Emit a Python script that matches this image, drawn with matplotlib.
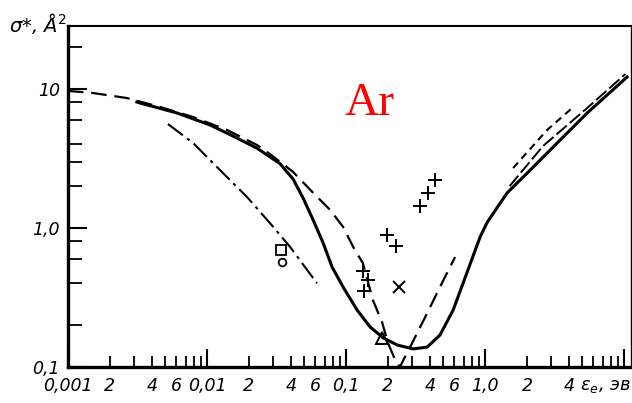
import matplotlib
matplotlib.use("Agg")
import matplotlib.pyplot as plt
from matplotlib.ticker import FixedLocator, FixedFormatter

# solid curve
solid_x = [0.00313, 0.00330, 0.00608, 0.01052, 0.01462, 0.0229, 0.0335, 0.0416,
           0.0491, 0.0580, 0.0684, 0.0793, 0.0951, 0.120, 0.149, 0.185, 0.233,
           0.303, 0.383, 0.474, 0.589, 0.743, 0.92, 1.03, 1.44, 2.11, 3.47,
           5.42, 10.5]
solid_y = [8.06, 7.93, 6.72, 5.51, 4.70, 3.75, 2.90, 2.25,
           1.64, 1.14, 0.780, 0.524, 0.377, 0.257, 0.194, 0.162, 0.144,
           0.135, 0.139, 0.170, 0.257, 0.482, 0.861, 1.09, 1.79, 2.61, 4.30,
           6.72, 12.2]

# long dashed curve
dash_x = [0.001, 0.00151, 0.00265, 0.00459, 0.00793, 0.01393, 0.0229, 0.0284,
          0.0416, 0.0580, 0.0767, 0.0951, 0.115, 0.132, 0.156, 0.182, 0.200,
          0.226, 0.244, 0.265, 0.299, 0.383, 0.474, 0.608]
dash_y = [9.69, 9.36, 8.61, 7.43, 6.29, 5.07, 3.95, 3.40,
          2.53, 1.79, 1.35, 1.02, 0.70, 0.560, 0.303, 0.208, 0.149,
          0.112, 0.1, 0.118, 0.149, 0.244, 0.377, 0.618]

# long dashed, high energy part
dash2_x = [1.50, 2.61, 5.42, 10.2]
dash2_y = [2.0, 3.89, 7.3, 12.8]

# dash-dot curve
dd_x = [0.00523, 0.00794, 0.0124, 0.0194, 0.0299, 0.0396, 0.0618]
dd_y = [5.6, 4.09, 2.61, 1.67, 1.02, 0.73, 0.40]

# short dashed curve (upper right)
sd_x = [1.59, 2.79, 4.23]
sd_y = [2.70, 5.07, 7.3]

# experimental points
plus_x = [0.132, 0.144, 0.134, 0.197, 0.229, 0.34, 0.389, 0.437]
plus_y = [0.49, 0.423, 0.352, 0.89, 0.743, 1.44, 1.79, 2.22]
cross_x, cross_y = [0.24], [0.375]
tri_x, tri_y = [0.181], [0.162]
sq_x, sq_y = [0.034], [0.695]
circ_x, circ_y = [0.0346], [0.569]

decades = [0.001, 0.01, 0.1, 1.0, 10.0]
decade_lab = ['0,001', '0,01', '0,1', '1,0', '']
ytick_pos = [0.1, 1.0, 10]
ytick_lab = ['0,1', '1,0', '10']
ytick_minor = [0.2, 0.4, 0.6, 0.8, 2, 3, 4, 6, 8, 20]

fig = plt.figure(figsize=(6.32, 4.03), dpi=100)
ax = fig.add_axes([68 / 632, 36 / 403, 563 / 632, 341 / 403])

ax.plot(solid_x, solid_y, color='black', lw=2.2)
ax.plot(dash_x, dash_y, color='black', lw=1.6, dashes=(7, 3.5))
ax.plot(dash2_x, dash2_y, color='black', lw=1.4, dashes=(7, 2))
ax.plot(dd_x, dd_y, color='black', lw=1.5, dashes=(9, 2.5, 1.5, 2.5))
ax.plot(sd_x, sd_y, color='black', lw=1.5, dashes=(3.5, 2.5))

ax.plot(plus_x, plus_y, ls='none', marker='+', ms=10, mew=1.4, color='black')
ax.plot(cross_x, cross_y, ls='none', marker='x', ms=8, mew=1.4, color='black')
ax.plot(tri_x, tri_y, ls='none', marker='^', ms=9, mew=1.4, mfc='none', color='black')
ax.plot(sq_x, sq_y, ls='none', marker='s', ms=7, mew=1.3, mfc='none', color='black')
ax.plot(circ_x, circ_y, ls='none', marker='o', ms=5.5, mew=1.3, mfc='none', color='black')

ax.set_xscale('log')
ax.set_yscale('log')
ax.set_xlim(0.001, 11.2)
ax.set_ylim(0.1, 28.4)

minors = []
minor_labels = []
for e in range(-3, 1):
    for m in range(2, 10):
        minors.append(m * 10.0 ** e)
        show = m in (2, 4, 6) and not (e == 0 and m == 6)
        minor_labels.append(str(m) if show else '')
ax.xaxis.set_major_locator(FixedLocator(decades))
ax.xaxis.set_major_formatter(FixedFormatter(decade_lab))
ax.xaxis.set_minor_locator(FixedLocator(minors))
ax.xaxis.set_minor_formatter(FixedFormatter(minor_labels))
ax.yaxis.set_major_locator(FixedLocator(ytick_pos))
ax.yaxis.set_major_formatter(FixedFormatter(ytick_lab))
ax.yaxis.set_minor_locator(FixedLocator(ytick_minor))
ax.yaxis.set_minor_formatter(FixedFormatter([''] * len(ytick_minor)))

ax.tick_params(axis='x', which='major', direction='in', length=13, width=1.5,
               pad=7, labelsize=12.5)
ax.tick_params(axis='x', which='minor', direction='in', length=8, width=1.3,
               pad=7, labelsize=12.5)
ax.tick_params(axis='y', which='major', direction='in', length=14, width=1.5,
               pad=6, labelsize=12.5)
ax.tick_params(axis='y', which='minor', direction='in', length=10, width=1.3)
ax.tick_params(axis='x', which='both', top=False)
ax.tick_params(axis='y', which='both', right=False)
for t in ax.get_xticklabels(which='both') + ax.get_yticklabels():
    t.set_fontstyle('italic')

ax.spines['left'].set_linewidth(2.4)
ax.spines['bottom'].set_linewidth(2.4)
ax.spines['top'].set_linewidth(1.5)
ax.spines['right'].set_linewidth(1.0)

ax.text(0.955, -0.03, 'ε$_e$, эв', transform=ax.transAxes, fontsize=13,
        style='italic', ha='center', va='top')
fig.text(9 / 632, 1 - 32 / 403, 'σ*, Å$^2$', fontsize=14, style='italic')
ax.text(0.536, 0.739, 'Ar', transform=ax.transAxes, color='red', fontsize=34,
        family='Liberation Serif', ha='center', va='baseline')

fig.savefig('out.png', dpi=100)
